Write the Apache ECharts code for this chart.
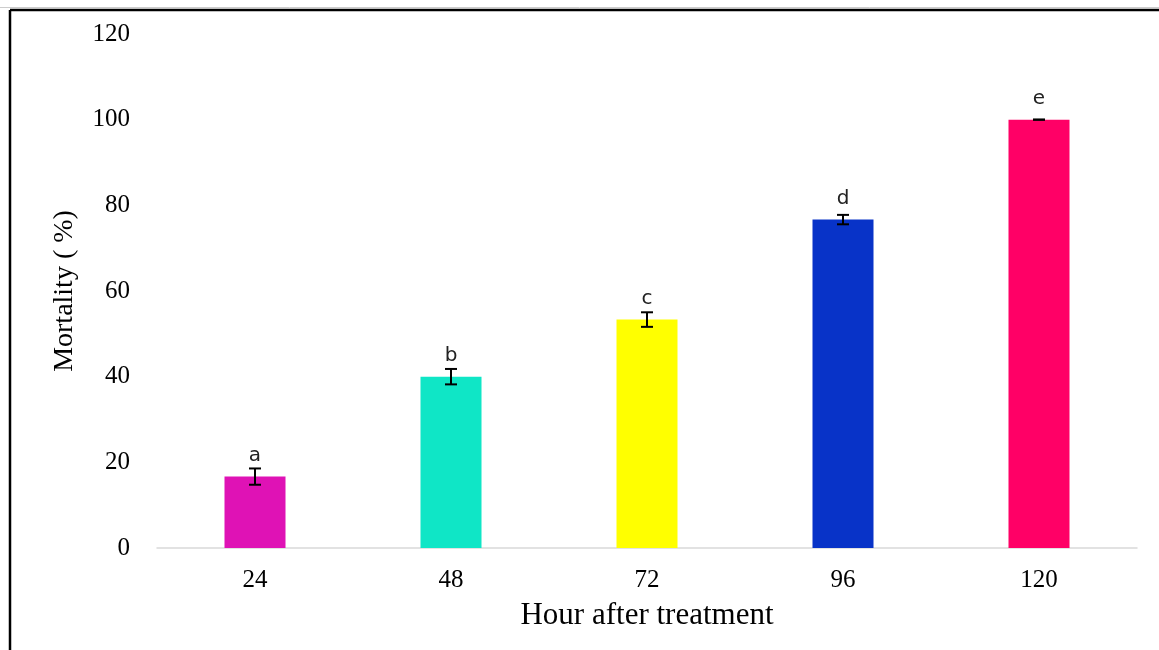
<!DOCTYPE html>
<html>
<head>
<meta charset="utf-8">
<script src="https://cdn.jsdelivr.net/npm/echarts@6/dist/echarts.min.js"></script>
<style>
html,body{margin:0;padding:0;background:#fff;}
#chart{width:1159px;height:650px;}
</style>
</head>
<body>
<div id="chart"></div>
<script>
const categories = ['24', '48', '72', '96', '120'];
const mortality = [16.67, 40, 53.33, 76.67, 100];
const errors = [1.9, 1.8, 1.7, 1.1, 0];
const letters = ['a', 'b', 'c', 'd', 'e'];
const colors = ['#DF12B5', '#0FE6C6', '#FFFF00', '#0833C8', '#FF0066'];
const yTicks = [0, 20, 40, 60, 80, 100, 120];

const chart = echarts.init(document.getElementById('chart'));
const serif = '"Liberation Serif", "Times New Roman", serif';

chart.setOption({
  backgroundColor: '#fff',
  animation: false,
  graphic: [
    { type: 'line', shape: { x1: 0, y1: 7.5, x2: 1159, y2: 7.5 }, style: { stroke: '#CCCCCC', lineWidth: 1 } },
    { type: 'line', shape: { x1: 10, y1: 10, x2: 1159, y2: 10 }, style: { stroke: '#000', lineWidth: 2.5 } },
    { type: 'line', shape: { x1: 10, y1: 10, x2: 10, y2: 650 }, style: { stroke: '#000', lineWidth: 2.5 } }
  ],
  grid: { left: 157, right: 22, top: 34, bottom: 102 },
  xAxis: {
    type: 'category',
    data: categories,
    name: 'Hour after treatment',
    nameLocation: 'middle',
    nameGap: 52,
    nameTextStyle: { fontFamily: serif, fontSize: 31, color: '#000' },
    axisLine: { lineStyle: { color: '#D9D9D9', width: 1.5 } },
    axisTick: { show: false },
    axisLabel: { fontFamily: serif, fontSize: 25, color: '#000', margin: 20 }
  },
  yAxis: {
    type: 'value',
    min: yTicks[0],
    max: yTicks[yTicks.length - 1],
    interval: 20,
    name: 'Mortality ( %)',
    nameLocation: 'middle',
    nameGap: 78,
    nameTextStyle: { fontFamily: serif, fontSize: 28, color: '#000' },
    axisLine: { show: false },
    axisTick: { show: false },
    splitLine: { show: false },
    axisLabel: { fontFamily: serif, fontSize: 25, color: '#000', margin: 27 }
  },
  series: [
    {
      type: 'bar',
      barWidth: 61,
      data: mortality.map((v, i) => ({ value: v, itemStyle: { color: colors[i] } })),
      label: {
        show: true,
        position: 'top',
        distance: 11,
        formatter: p => letters[p.dataIndex],
        fontFamily: '"DejaVu Sans", sans-serif',
        fontSize: 20,
        color: '#222'
      }
    },
    {
      type: 'custom',
      data: mortality.map((v, i) => [i, v - errors[i], v + errors[i]]),
      renderItem: function (params, api) {
        const lo = api.coord([api.value(0), api.value(1)]);
        const hi = api.coord([api.value(0), api.value(2)]);
        const hw = 6;
        const style = { stroke: '#000', lineWidth: 2 };
        return {
          type: 'group',
          children: [
            { type: 'line', shape: { x1: lo[0], y1: lo[1], x2: hi[0], y2: hi[1] }, style },
            { type: 'line', shape: { x1: hi[0] - hw, y1: hi[1], x2: hi[0] + hw, y2: hi[1] }, style },
            { type: 'line', shape: { x1: lo[0] - hw, y1: lo[1], x2: lo[0] + hw, y2: lo[1] }, style }
          ]
        };
      },
      z: 10
    }
  ]
});
</script>
</body>
</html>
